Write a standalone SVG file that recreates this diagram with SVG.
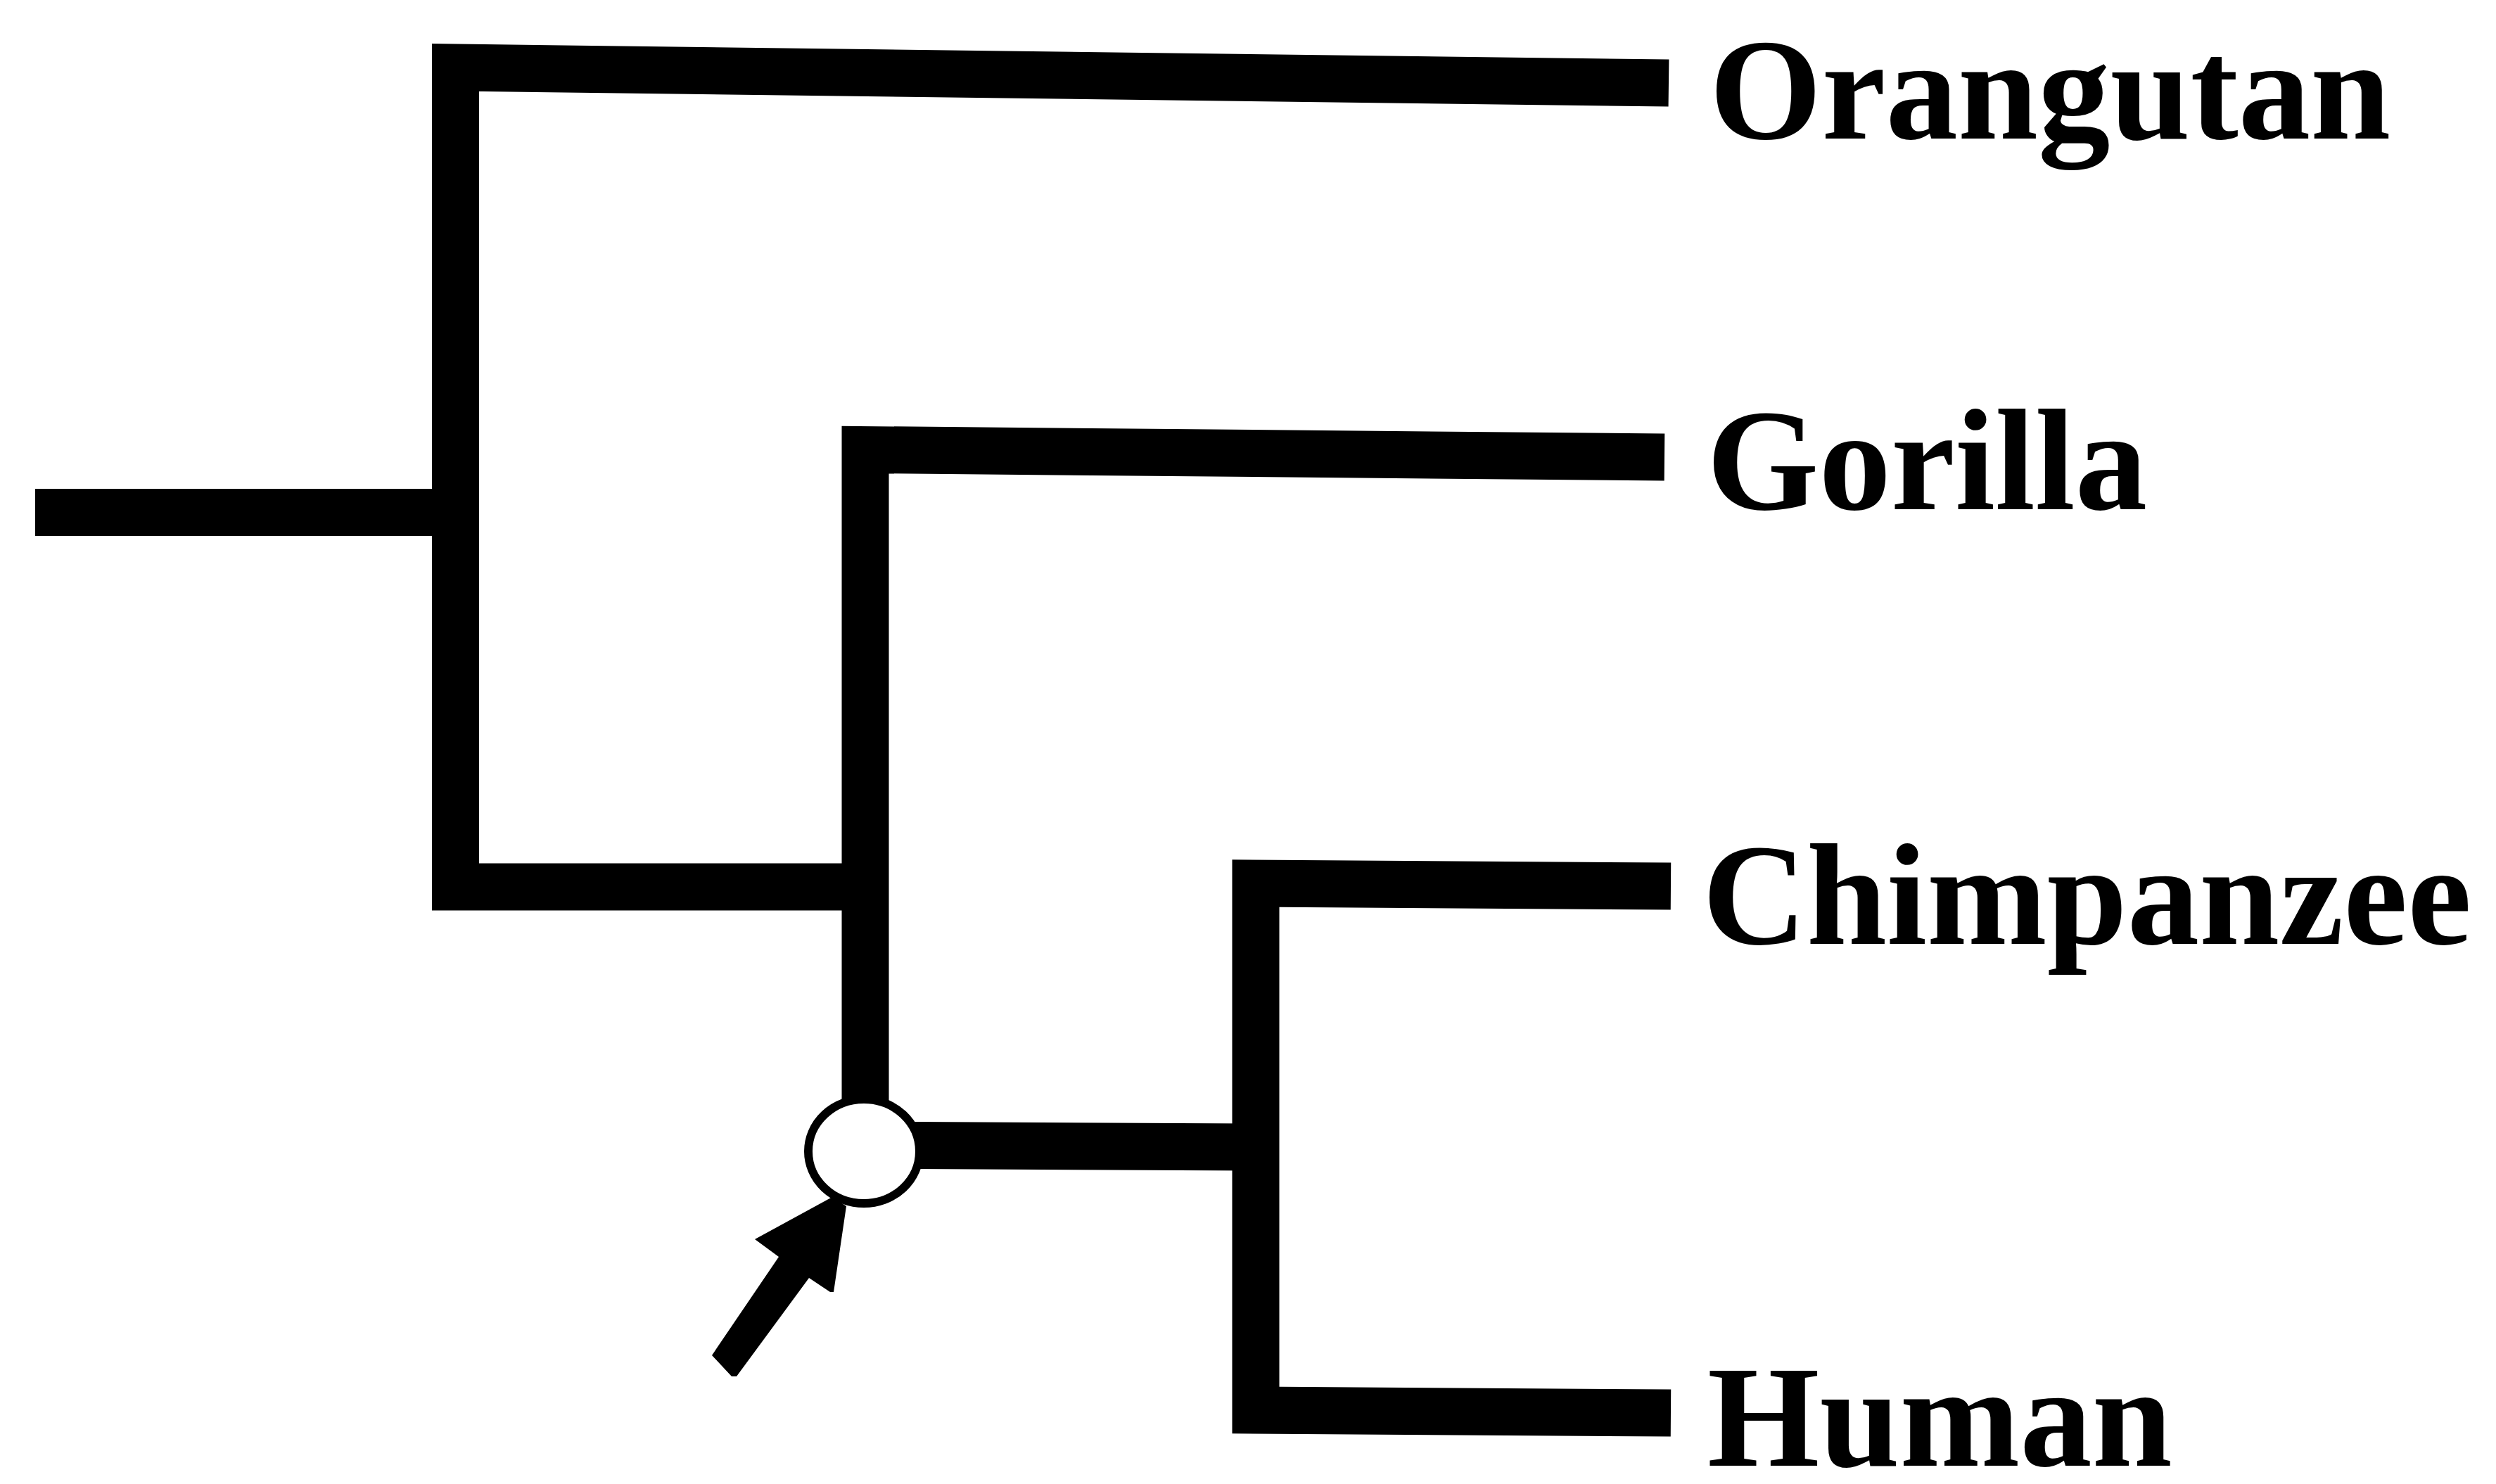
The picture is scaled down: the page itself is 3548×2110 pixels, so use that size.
<svg xmlns="http://www.w3.org/2000/svg" width="3548" height="2110" viewBox="0 0 3548 2110">
  <style>
    .branch { fill: none; stroke: #000; stroke-width: 67; stroke-linecap: butt; stroke-linejoin: miter; }
    .taxon { font-family: "Liberation Serif", "Times New Roman", serif; font-weight: bold; font-size: 205px; fill: #000; }
  </style>
  <rect width="3548" height="2110" fill="#fff"/>

  <!-- tree branches -->
  <g id="connectors">
    <!-- root stem -->
    <path class="branch" d="M50,728.5 L648,728.5"/>
    <!-- root split: orangutan / rest -->
    <path class="branch" d="M2372,118 L647.5,96 L647.5,1261 L1230,1261"/>
    <!-- gorilla split -->
    <path class="branch" d="M2366,650 L1230,639.5 L1230,1565"/>
    <!-- stem from highlighted node to chimp/human split -->
    <path class="branch" d="M1300,1628.5 L1785,1631"/>
    <!-- chimp / human split -->
    <path class="branch" d="M2375,1260 L1785,1256 L1785,2005 L2375,2009"/>
  </g>

  <!-- highlighted ancestor node -->
  <g id="node-ancestor">
    <ellipse cx="1228" cy="1637" rx="79" ry="74" fill="#fff" stroke="#000" stroke-width="12"/>
  </g>

  <!-- pointer arrow -->
  <g id="arrow">
    <polygon fill="#000" points="1183,1702 1203,1715 1185,1837 1180,1837 1150,1817 1047,1957 1040,1957 1012,1927 1107,1787 1073,1762"/>
  </g>

  <!-- taxon labels -->
  <g id="node-orangutan"><text class="taxon" x="2430" y="197">Orangutan</text></g>
  <g id="node-gorilla"><text class="taxon" x="2426" y="724">Gorilla</text></g>
  <g id="node-chimpanzee"><text class="taxon" x="2420" y="1342">Chimpanzee</text></g>
  <g id="node-human"><text class="taxon" x="2427" y="2084">Human</text></g>
</svg>
